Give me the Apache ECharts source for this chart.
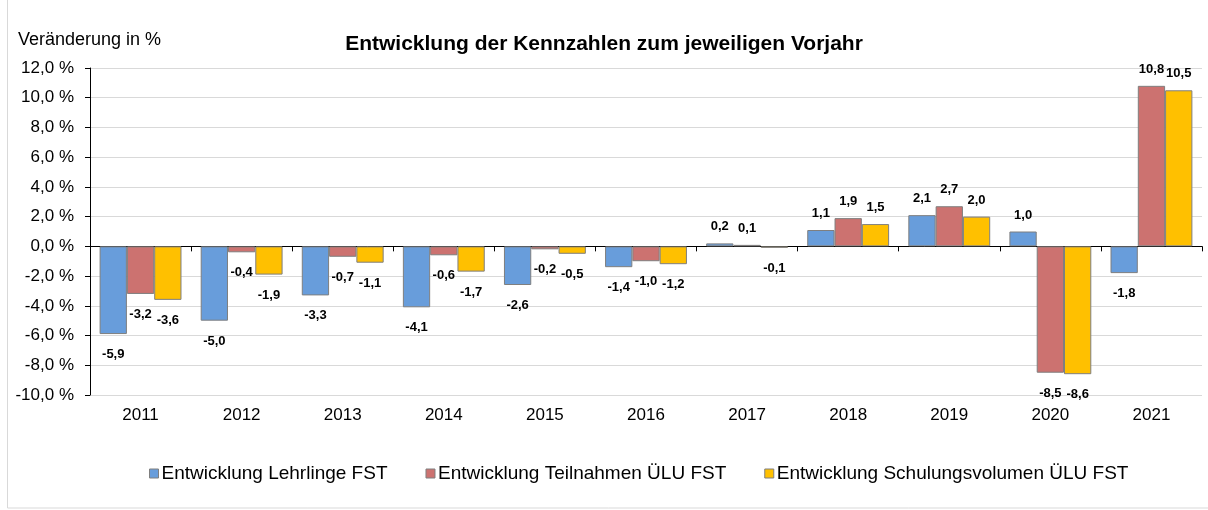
<!DOCTYPE html>
<html><head><meta charset="utf-8">
<script src="https://cdn.jsdelivr.net/npm/echarts@6/dist/echarts.min.js"></script>
<style>html,body{margin:0;padding:0;background:#fff}#c{width:1208px;height:510px}</style>
</head><body><div id="c"></div>
<script>
var categories = ['2011','2012','2013','2014','2015','2016','2017','2018','2019','2020','2021'];
var lehrlinge = [-5.9, -5.0, -3.3, -4.1, -2.6, -1.4, 0.2, 1.1, 2.1, 1.0, -1.8];
var teilnahmen = [-3.2, -0.4, -0.7, -0.6, -0.2, -1.0, 0.1, 1.9, 2.7, -8.5, 10.8];
var schulung = [-3.6, -1.9, -1.1, -1.7, -0.5, -1.2, -0.1, 1.5, 2.0, -8.6, 10.5];
var seriesNames = ['Entwicklung Lehrlinge FST', 'Entwicklung Teilnahmen ÜLU FST', 'Entwicklung Schulungsvolumen ÜLU FST'];
var colors = ['#689ddb', '#cc7270', '#ffc000'];
var font = '"Liberation Sans", Arial, sans-serif';

function fmt(v){ return v.toFixed(1).replace('.', ','); }
function mkData(arr){
  return arr.map(function(v){
    return {value: v, label: {position: v >= 0 ? 'top' : 'bottom', distance: v >= 0 ? 10 : 14}};
  });
}
function mkSeries(name, arr, color){
  return {
    name: name, type: 'bar', xAxisIndex: 0, data: mkData(arr),
    barGap: '0%', barCategoryGap: '19%',
    itemStyle: {color: color, borderColor: '#7f7f7f', borderWidth: 1},
    label: {show: true, fontFamily: font, fontWeight: 'bold', fontSize: 13, color: '#000',
      formatter: function(p){ return fmt(p.value); }}
  };
}
var chart = echarts.init(document.getElementById('c'), null, {renderer: 'canvas'});
chart.setOption({
  animation: false,
  textStyle: {fontFamily: font},
  graphic: [{type: 'rect', shape: {x: 7.5, y: -2, width: 1210, height: 510}, style: {fill: 'none', stroke: '#d9d9d9', lineWidth: 1}, silent: true}],
  title: [{text: 'Entwicklung der Kennzahlen zum jeweiligen Vorjahr', left: 'center', top: 29,
    textStyle: {fontFamily: font, fontWeight: 'bold', fontSize: 21, color: '#000'}}],
  legend: {bottom: 22, left: 144, itemWidth: 9, itemHeight: 9, itemGap: 38,
    icon: 'rect', textStyle: {fontFamily: font, fontSize: 19, color: '#000', padding: [0,0,0,-2]},
    data: seriesNames.map(function(n, i){ return {name: n, itemStyle: {borderColor: '#7f7f7f', borderWidth: 1}}; })},
  grid: {left: 90, right: 6, top: 68, bottom: 115, containLabel: false},
  xAxis: [
    {type: 'category', data: categories, position: 'bottom',
     axisLine: {onZero: true, lineStyle: {color: '#000', width: 1}},
     axisTick: {show: true, length: 5, lineStyle: {color: '#000'}},
     axisLabel: {show: false}, splitLine: {show: false}},
    {type: 'category', data: categories, position: 'bottom',
     axisLine: {show: false}, axisTick: {show: false},
     axisLabel: {show: true, fontFamily: font, fontSize: 17, color: '#000', margin: 12}}
  ],
  yAxis: {type: 'value', min: -10, max: 12, interval: 2,
    name: 'Veränderung in %', nameLocation: 'end', nameGap: 19,
    nameTextStyle: {fontFamily: font, fontSize: 18, color: '#000', align: 'left', padding: [0,0,0,-72]},
    axisLine: {show: true, onZero: false, lineStyle: {color: '#000', width: 1}},
    axisTick: {show: true, length: 5, lineStyle: {color: '#000'}},
    axisLabel: {fontFamily: font, fontSize: 17, color: '#000', margin: 16,
      formatter: function(v){ return fmt(v) + ' %'; }},
    splitLine: {show: true, lineStyle: {color: '#d9d9d9', width: 1}}},
  series: [
    mkSeries(seriesNames[0], lehrlinge, colors[0]),
    mkSeries(seriesNames[1], teilnahmen, colors[1]),
    mkSeries(seriesNames[2], schulung, colors[2])
  ]
});
</script></body></html>
